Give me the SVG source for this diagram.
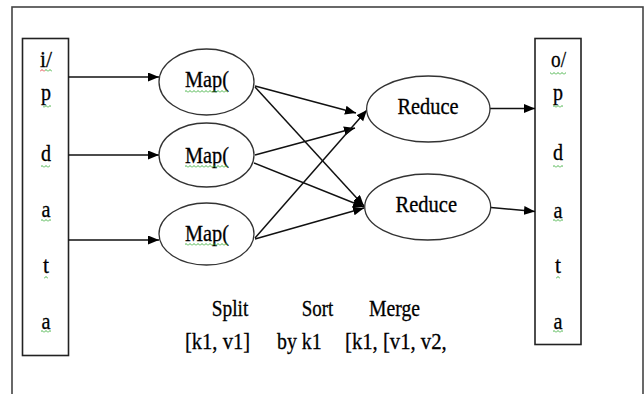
<svg xmlns="http://www.w3.org/2000/svg" width="644" height="394" viewBox="0 0 644 394">
<style>
.box{fill:none;stroke:#222;stroke-width:1.6}
.ell{fill:#fff;stroke:#333;stroke-width:1.3}
.con{stroke:#111;stroke-width:1.5;fill:none;marker-end:url(#ah)}
.t{font-family:"Liberation Serif","Times New Roman",serif;font-size:23px;fill:#000;stroke:#000;stroke-width:0.3}
.sq{fill:url(#sqg)}
.sqr{fill:url(#sqr)}
</style>
<defs>
<marker id="ah" markerUnits="userSpaceOnUse" markerWidth="12" markerHeight="10" refX="11" refY="4.5" orient="auto">
<path d="M0,0 L11,4.5 L0,9 z" fill="#000"/>
</marker>
<pattern id="sqg" width="4" height="3" patternUnits="userSpaceOnUse">
<path d="M0,2.5 L2,0.5 L4,2.5" fill="none" stroke="#3a3" stroke-width="0.9"/>
</pattern>
<pattern id="sqr" width="4" height="3" patternUnits="userSpaceOnUse">
<path d="M0,2.5 L2,0.5 L4,2.5" fill="none" stroke="#d33" stroke-width="0.9"/>
</pattern>
</defs>
<rect x="12" y="7" width="631" height="420" fill="#fff" stroke="#444" stroke-width="1.6"/>

<g id="input">
<rect class="box" x="22.5" y="38.5" width="46" height="317"/>
<text class="t" x="40" y="67" textLength="12" lengthAdjust="spacingAndGlyphs">i/</text>
<text class="t" x="41" y="100" textLength="10" lengthAdjust="spacingAndGlyphs">p</text>
<text class="t" x="41" y="161" textLength="10" lengthAdjust="spacingAndGlyphs">d</text>
<text class="t" x="41.5" y="217" textLength="9" lengthAdjust="spacingAndGlyphs">a</text>
<text class="t" x="43" y="273" textLength="6" lengthAdjust="spacingAndGlyphs">t</text>
<text class="t" x="41.5" y="329" textLength="9" lengthAdjust="spacingAndGlyphs">a</text>
<rect class="sqr" x="40" y="69" width="5" height="3"/>
<rect class="sq" x="45" y="69" width="7" height="3"/>
<rect class="sq" x="43" y="105" width="8" height="3"/>
<rect class="sq" x="41" y="165" width="9" height="3"/>
<rect class="sq" x="41" y="219" width="10" height="3"/>
<rect class="sq" x="44" y="276" width="4" height="3"/>
<rect class="sq" x="41" y="330" width="10" height="3"/>
</g>

<g id="output">
<rect class="box" x="535" y="38.5" width="46" height="306"/>
<text class="t" x="551" y="67" textLength="15" lengthAdjust="spacingAndGlyphs">o/</text>
<text class="t" x="553" y="100" textLength="10" lengthAdjust="spacingAndGlyphs">p</text>
<text class="t" x="553" y="160" textLength="10" lengthAdjust="spacingAndGlyphs">d</text>
<text class="t" x="553.5" y="218" textLength="9" lengthAdjust="spacingAndGlyphs">a</text>
<text class="t" x="555" y="273" textLength="6" lengthAdjust="spacingAndGlyphs">t</text>
<text class="t" x="553.5" y="329" textLength="9" lengthAdjust="spacingAndGlyphs">a</text>
<rect class="sq" x="550" y="72" width="16" height="3"/>
<rect class="sq" x="553" y="105" width="10" height="3"/>
<rect class="sq" x="553" y="165" width="10" height="3"/>
<rect class="sq" x="553" y="219" width="10" height="3"/>
<rect class="sq" x="556" y="276" width="4" height="3"/>
<rect class="sq" x="553" y="330" width="10" height="3"/>
</g>

<g id="connectors">
<line class="con" x1="68.5" y1="77" x2="159" y2="77"/>
<line class="con" x1="68.5" y1="155" x2="159" y2="155"/>
<line class="con" x1="68.5" y1="240" x2="159" y2="240"/>
<line class="con" x1="255" y1="86" x2="356" y2="113"/>
<line class="con" x1="255" y1="87" x2="364" y2="206"/>
<line class="con" x1="255" y1="155" x2="355" y2="128"/>
<line class="con" x1="254" y1="163" x2="364" y2="207"/>
<line class="con" x1="255" y1="238" x2="367" y2="110"/>
<line class="con" x1="255" y1="239" x2="364" y2="208"/>
<line class="con" x1="490" y1="108.5" x2="535" y2="108.5"/>
<line class="con" x1="491" y1="207.5" x2="535" y2="211.5"/>
</g>

<g id="map1">
<ellipse class="ell" cx="206.5" cy="82" rx="47.5" ry="33"/>
<text class="t" x="185" y="87" textLength="44" lengthAdjust="spacingAndGlyphs">Map(</text>
<rect class="sq" x="185" y="90" width="43" height="3"/>
</g>
<g id="map2">
<ellipse class="ell" cx="206.5" cy="155" rx="47.5" ry="32"/>
<text class="t" x="185" y="163" textLength="44" lengthAdjust="spacingAndGlyphs">Map(</text>
<rect class="sq" x="185" y="165" width="43" height="3"/>
</g>
<g id="map3">
<ellipse class="ell" cx="206.5" cy="234" rx="47.5" ry="31"/>
<text class="t" x="185" y="241" textLength="44" lengthAdjust="spacingAndGlyphs">Map(</text>
<rect class="sq" x="185" y="243" width="43" height="3"/>
</g>

<g id="reduce1">
<ellipse class="ell" cx="428.3" cy="109" rx="61.7" ry="33"/>
<text class="t" x="397.5" y="113.5" textLength="61" lengthAdjust="spacingAndGlyphs">Reduce</text>
</g>
<g id="reduce2">
<ellipse class="ell" cx="427.7" cy="207" rx="63" ry="33"/>
<text class="t" x="395.5" y="211.5" textLength="61.5" lengthAdjust="spacingAndGlyphs">Reduce</text>
</g>

<g id="labels">
<text class="t" x="211.7" y="316" textLength="36.6" lengthAdjust="spacingAndGlyphs">Split</text>
<text class="t" x="301.7" y="316" textLength="31.6" lengthAdjust="spacingAndGlyphs">Sort</text>
<text class="t" x="369" y="316" textLength="51" lengthAdjust="spacingAndGlyphs">Merge</text>
<text class="t" x="185" y="349" textLength="65" lengthAdjust="spacingAndGlyphs">[k1, v1]</text>
<text class="t" x="277" y="349" textLength="44.7" lengthAdjust="spacingAndGlyphs">by k1</text>
<text class="t" x="345" y="349" textLength="101.7" lengthAdjust="spacingAndGlyphs">[k1, [v1, v2,</text>
</g>
</svg>
